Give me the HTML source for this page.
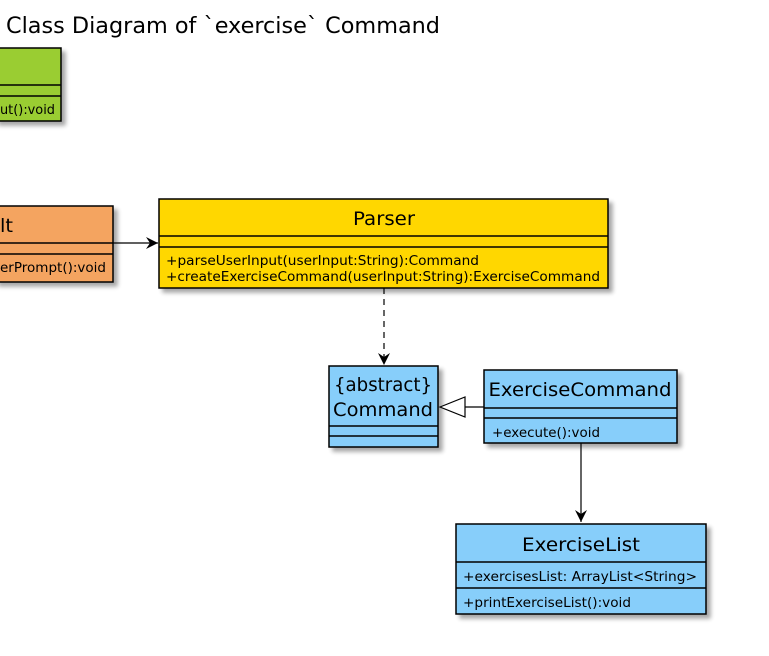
<!DOCTYPE html>
<html><head><meta charset="utf-8"><style>
html,body{margin:0;padding:0;background:#fff;}
svg{display:block;}
text{font-family:"DejaVu Sans","Liberation Sans",sans-serif;fill:#000;}
</style></head><body>
<svg width="769" height="656" viewBox="0 0 769 656" xmlns="http://www.w3.org/2000/svg">
<defs>
<filter id="sh" x="-10%" y="-10%" width="130%" height="140%">
<feGaussianBlur in="SourceAlpha" stdDeviation="2"/>
<feOffset dx="4" dy="4"/>
<feComponentTransfer><feFuncA type="linear" slope="0.35"/></feComponentTransfer>
<feMerge><feMergeNode/><feMergeNode in="SourceGraphic"/></feMerge>
</filter>
</defs>
<text x="6" y="33" font-size="22" textLength="434" lengthAdjust="spacingAndGlyphs">Class Diagram of `exercise` Command</text>

<!-- green -->
<g filter="url(#sh)"><rect x="-5" y="48" width="66" height="73" fill="#9acd32" stroke="#000" stroke-width="1.5"/></g>
<line x1="-5" y1="85" x2="61" y2="85" stroke="#000" stroke-width="1.5"/>
<line x1="-5" y1="96" x2="61" y2="96" stroke="#000" stroke-width="1.5"/>
<text x="0" y="114" font-size="13" textLength="55" lengthAdjust="spacingAndGlyphs">ut():void</text>

<!-- orange -->
<g filter="url(#sh)"><rect x="-5" y="206" width="118" height="76" fill="#f4a460" stroke="#000" stroke-width="1.5"/></g>
<line x1="-5" y1="243" x2="113" y2="243" stroke="#000" stroke-width="1.5"/>
<line x1="-5" y1="254" x2="113" y2="254" stroke="#000" stroke-width="1.5"/>
<text x="0" y="232" font-size="19" textLength="13" lengthAdjust="spacingAndGlyphs">lt</text>
<text x="0" y="272" font-size="13" textLength="106" lengthAdjust="spacingAndGlyphs">erPrompt():void</text>

<!-- arrow orange -> parser -->
<line x1="113" y1="243" x2="158" y2="243" stroke="#000" stroke-width="1.2"/>
<path d="M146,237 L158,243 L146,249 L150,243 Z" fill="#000"/>

<!-- parser -->
<g filter="url(#sh)"><rect x="159" y="199" width="449" height="89" fill="#ffd700" stroke="#000" stroke-width="1.5"/></g>
<line x1="159" y1="236" x2="608" y2="236" stroke="#000" stroke-width="1.5"/>
<line x1="159" y1="247" x2="608" y2="247" stroke="#000" stroke-width="1.5"/>
<text x="384" y="225" font-size="19" text-anchor="middle" textLength="62" lengthAdjust="spacingAndGlyphs">Parser</text>
<text x="166" y="265" font-size="13" textLength="313" lengthAdjust="spacingAndGlyphs">+parseUserInput(userInput:String):Command</text>
<text x="166" y="281" font-size="13" textLength="434" lengthAdjust="spacingAndGlyphs">+createExerciseCommand(userInput:String):ExerciseCommand</text>

<!-- dashed parser -> command -->
<line x1="384" y1="288" x2="384" y2="364" stroke="#000" stroke-width="1.2" stroke-dasharray="6,5"/>
<path d="M378,353 L384,365 L390,353 L384,357 Z" fill="#000"/>

<!-- command -->
<g filter="url(#sh)"><rect x="329" y="366" width="109" height="81" fill="#87cefa" stroke="#000" stroke-width="1.5"/></g>
<line x1="329" y1="426" x2="438" y2="426" stroke="#000" stroke-width="1.5"/>
<line x1="329" y1="436" x2="438" y2="436" stroke="#000" stroke-width="1.5"/>
<text x="383" y="391" font-size="19" text-anchor="middle" textLength="98" lengthAdjust="spacingAndGlyphs">{abstract}</text>
<text x="383" y="416" font-size="19" text-anchor="middle" textLength="100" lengthAdjust="spacingAndGlyphs">Command</text>

<!-- generalization -->
<line x1="465" y1="407" x2="484" y2="407" stroke="#000" stroke-width="1.2"/>
<path d="M440,407 L465,397 L465,417 Z" fill="#fff" stroke="#000" stroke-width="1.2"/>

<!-- exercise command -->
<g filter="url(#sh)"><rect x="484" y="370" width="193" height="73" fill="#87cefa" stroke="#000" stroke-width="1.5"/></g>
<line x1="484" y1="408" x2="677" y2="408" stroke="#000" stroke-width="1.5"/>
<line x1="484" y1="418" x2="677" y2="418" stroke="#000" stroke-width="1.5"/>
<text x="580" y="396" font-size="19" text-anchor="middle" textLength="183" lengthAdjust="spacingAndGlyphs">ExerciseCommand</text>
<text x="492" y="437" font-size="13" textLength="108" lengthAdjust="spacingAndGlyphs">+execute():void</text>

<!-- arrow -> exercise list -->
<line x1="581" y1="443" x2="581" y2="522" stroke="#000" stroke-width="1.2"/>
<path d="M575,510 L581,522 L587,510 L581,514 Z" fill="#000"/>

<!-- exercise list -->
<g filter="url(#sh)"><rect x="456" y="524" width="250" height="90" fill="#87cefa" stroke="#000" stroke-width="1.5"/></g>
<line x1="456" y1="562" x2="706" y2="562" stroke="#000" stroke-width="1.5"/>
<line x1="456" y1="588" x2="706" y2="588" stroke="#000" stroke-width="1.5"/>
<text x="581" y="551" font-size="19" text-anchor="middle" textLength="118" lengthAdjust="spacingAndGlyphs">ExerciseList</text>
<text x="463" y="581" font-size="13" textLength="234" lengthAdjust="spacingAndGlyphs">+exercisesList: ArrayList&lt;String&gt;</text>
<text x="463" y="607" font-size="13" textLength="168" lengthAdjust="spacingAndGlyphs">+printExerciseList():void</text>
</svg>
</body></html>
